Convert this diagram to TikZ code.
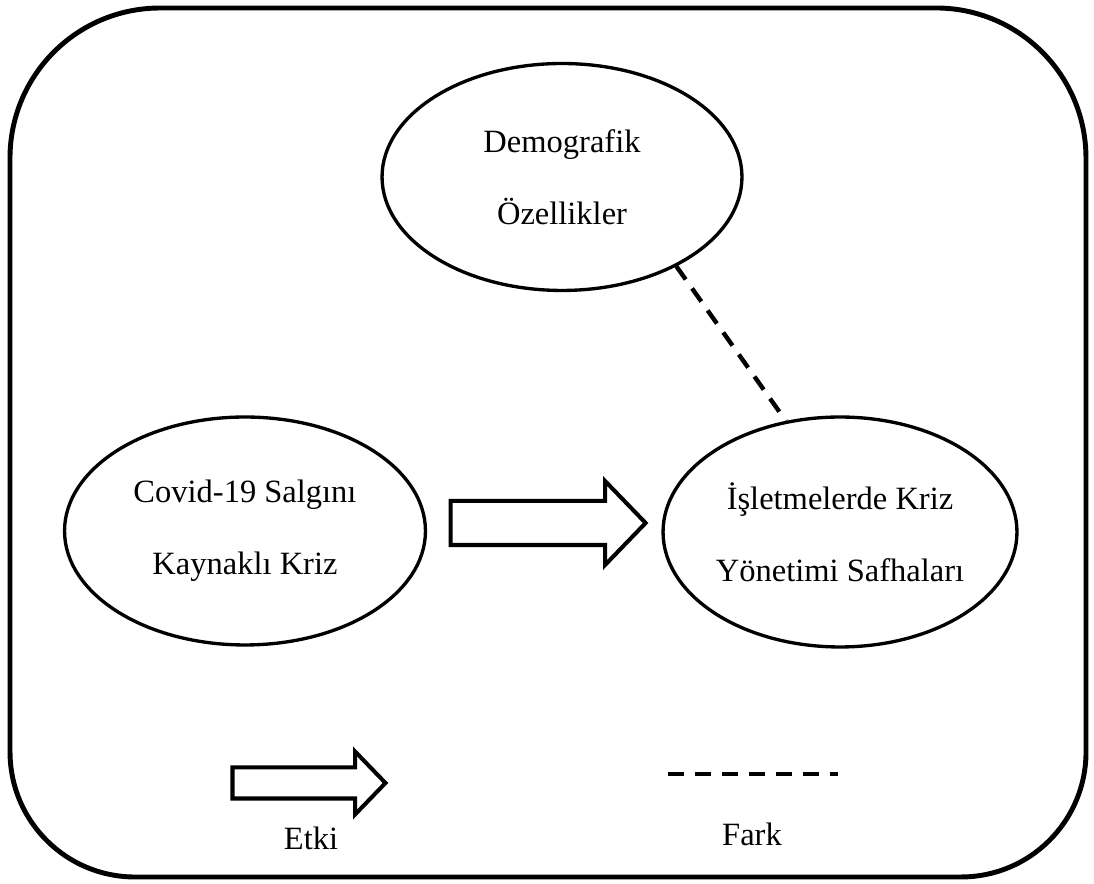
\documentclass[tikz,border=0pt]{standalone}
\usepackage{fontspec}
\setmainfont{Liberation Serif}
\usetikzlibrary{shapes.geometric,shapes.arrows}

\begin{document}
\begin{tikzpicture}[x=0.02cm, y=0.02cm,
    factor/.style={draw, ellipse, line width=1.9pt, inner sep=0pt,
      align=center, font=\fontsize{18.5}{41}\selectfont},
    effectarrow/.style={draw, single arrow, line width=2.3pt, inner sep=0pt,
      single arrow tip angle=92},
    diffline/.style={line width=2.5pt, dash pattern=on 0.32cm off 0.22cm},
    legendtext/.style={anchor=base, font=\fontsize{18.5}{22}\selectfont}]
  \useasboundingbox (0,0) rectangle (1094,884);

  % Frame
  \draw[line width=2.8pt] (10,442) -- (10,726) arc[start angle=180, end angle=90, radius=3cm]
    -- (936,876) arc[start angle=90, end angle=0, radius=3cm]
    -- (1086,132) arc[start angle=0, end angle=-90, radius=2.5cm]
    -- (135,7) arc[start angle=270, end angle=180, radius=2.5cm] -- cycle;

  % Ellipses
  \node[factor, minimum width=7.2cm, minimum height=4.54cm] (demo)
    at (562,707) {Demografik\\Özellikler};
  \node[factor, minimum width=7.22cm, minimum height=4.56cm] (covid)
    at (245,353) {Covid-19 Salgını\\Kaynaklı Kriz};
  \node[factor, minimum width=7.08cm, minimum height=4.6cm] (isl)
    at (840,352) {İşletmelerde Kriz\\Yönetimi Safhaları};

  % Effect
  \node[effectarrow, minimum height=3.9cm, text height=0.4cm, text depth=0.4cm,
    single arrow head extend=0.4cm] (effect) at (537.5,361) {};

  % Difference
  \draw[diffline] (demo.-38) -- (isl.116);

  % Legend
  \node[effectarrow, minimum height=3.06cm, text height=0.27cm, text depth=0.27cm,
    single arrow head extend=0.32cm] (etkikey) at (301.5,101) {};
  \node[legendtext] (etki) at (311,34) {Etki};

  \coordinate (farkA) at (668,110);
  \coordinate (farkB) at (838,110);
  \draw[diffline] (farkA) -- (farkB);
  \node[legendtext] (fark) at (752,38) {Fark};
\end{tikzpicture}
\end{document}
